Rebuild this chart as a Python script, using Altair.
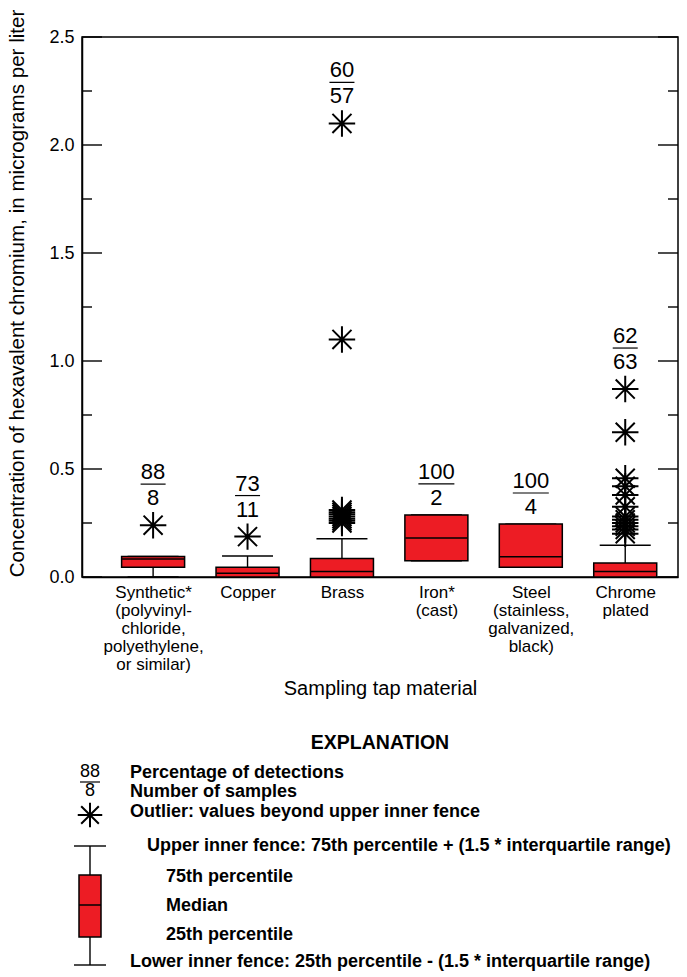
import altair as alt
import pandas as pd

# ---------------- data ----------------
categories = [
    "Synthetic*\n(polyvinyl-\nchloride,\npolyethylene,\nor similar)",
    "Copper",
    "Brass",
    "Iron*\n(cast)",
    "Steel\n(stainless,\ngalvanized,\nblack)",
    "Chrome\nplated",
]
q1 = [0.045, 0.0, 0.0, 0.075, 0.045, 0.0]
median = [0.083, 0.017, 0.025, 0.18, 0.094, 0.025]
q3 = [0.095, 0.045, 0.086, 0.287, 0.245, 0.065]
whisker_low = [0.0, 0.0, 0.0, 0.075, 0.045, 0.0]
whisker_high = [0.095, 0.097, 0.177, 0.287, 0.245, 0.147]
outliers = [
    [0.24],
    [0.187],
    [0.25, 0.26, 0.27, 0.28, 0.29, 0.30, 0.31, 1.10, 2.10],
    [],
    [],
    [0.87, 0.67, 0.457, 0.42, 0.38, 0.325, 0.28, 0.265, 0.25, 0.235, 0.22, 0.20],
]
pct_detections = [88, 73, 60, 100, 100, 62]
n_samples = [8, 11, 57, 2, 4, 63]
y_major = [0.0, 0.5, 1.0, 1.5, 2.0, 2.5]
y_minor = [0.25, 0.75, 1.25, 1.75, 2.25]

# ---------------- styling ----------------
W, H = 596, 540
FONT = "Liberation Sans"
RED = "#ED1C24"
STAR = "M-1,0L1,0M0,-1L0,1M-0.72,-0.72L0.72,0.72M-0.72,0.72L0.72,-0.72"

stats = pd.DataFrame({
    "cat": categories, "q1": q1, "med": median, "q3": q3,
    "lo": whisker_low, "hi": whisker_high,
    "pct": pct_detections, "n": n_samples,
})
stats["top"] = [max([b] + o) for b, o in zip(q3, outliers)]
stats["has_out"] = [len(o) > 0 for o in outliers]

out_df = pd.DataFrame(
    [(c, v) for c, vals in zip(categories, outliers) for v in vals],
    columns=["cat", "value"],
)
major_df = pd.DataFrame({"v": y_major})
minor_df = pd.DataFrame({"v": y_minor})

xscale = alt.Scale(type="point", padding=0.656, align=0.574, domain=categories)
yscale = alt.Scale(domain=[0, 2.5], nice=False, zero=True)

xaxis = alt.Axis(
    title="Sampling tap material",
    labelExpr="split(datum.label, '\\n')",
    labelAngle=0, ticks=False, domainColor="black", domainWidth=1.5,
    labelFont=FONT, labelFontSize=17, labelColor="black", labelLineHeight=18,
    labelPadding=7, labelBaseline="top",
    titleFont=FONT, titleFontSize=20, titleFontWeight="normal", titleColor="black",
    titlePadding=6,
)
yaxis = alt.Axis(
    title="Concentration of hexavalent chromium, in micrograms per liter",
    values=y_major, format=".1f", ticks=False, grid=False,
    domainColor="black", domainWidth=1.5,
    labelFont=FONT, labelFontSize=18, labelColor="black", labelPadding=8,
    titleFont=FONT, titleFontSize=20.6, titleFontWeight="normal", titleColor="black",
    titleX=-55, titleY=256,
)


def X():
    return alt.X("cat:N", scale=xscale, sort=categories, axis=xaxis)


def Y(field):
    return alt.Y(field, scale=yscale, axis=yaxis)


base = alt.Chart(stats)

whisk_up = base.mark_rule(color="black", strokeWidth=1.4).encode(x=X(), y=Y("q3:Q"), y2="hi:Q")
whisk_lo = base.mark_rule(color="black", strokeWidth=1.4).encode(x=X(), y=Y("lo:Q"), y2="q1:Q")
cap_up = base.mark_tick(color="black", size=51, thickness=1.4, opacity=1).encode(x=X(), y=Y("hi:Q"))
cap_lo = base.mark_tick(color="black", size=51, thickness=1.4, opacity=1).encode(x=X(), y=Y("lo:Q"))
box = base.mark_bar(size=63, fill=RED, stroke="black", strokeWidth=1.5).encode(x=X(), y=Y("q1:Q"), y2="q3:Q")
med = base.mark_tick(color="black", size=62, thickness=1.5, opacity=1).encode(x=X(), y=Y("med:Q"))

stars = alt.Chart(out_df).mark_point(
    shape=STAR, size=700, filled=False, stroke="black", strokeWidth=2, opacity=1
).encode(x=X(), y=Y("value:Q"))

lab = base.transform_calculate(
    line_y="datum.top + (datum.has_out ? 0.19 : 0.144)",
    tw="length(toString(datum.pct)) * 11 + 3",
)
num = lab.mark_text(font=FONT, fontSize=22, dy=-12, baseline="middle", color="black").encode(
    x=X(), y=Y("line_y:Q"), text="pct:N")
den = lab.mark_text(font=FONT, fontSize=22, dy=14, baseline="middle", color="black").encode(
    x=X(), y=Y("line_y:Q"), text="n:N")
bar = lab.mark_tick(color="black", thickness=1.2, opacity=1).encode(
    x=X(), y=Y("line_y:Q"), size=alt.Size("tw:Q", scale=None))

ticks_major_l = alt.Chart(major_df).mark_rule(color="black", strokeWidth=1.4).encode(
    y=Y("v:Q"), x=alt.value(0), x2=alt.value(20))
ticks_major_r = alt.Chart(major_df).mark_rule(color="black", strokeWidth=1.4).encode(
    y=Y("v:Q"), x=alt.value(W - 20), x2=alt.value(W))
ticks_minor_l = alt.Chart(minor_df).mark_rule(color="black", strokeWidth=1.4).encode(
    y=Y("v:Q"), x=alt.value(0), x2=alt.value(10))
ticks_minor_r = alt.Chart(minor_df).mark_rule(color="black", strokeWidth=1.4).encode(
    y=Y("v:Q"), x=alt.value(W - 10), x2=alt.value(W))

# ---------------- explanation (legend) ----------------
one = alt.Chart(pd.DataFrame({"k": [0]}))


def ltext(txt, x, y, size=18, bold=True, align="left"):
    return one.mark_text(
        text=txt, font=FONT, fontSize=size, fontWeight="bold" if bold else "normal",
        align=align, baseline="middle", color="black",
    ).encode(x=alt.value(x), y=alt.value(y))


def lrule(x, x2, y, y2=None, w=1.4):
    enc = dict(x=alt.value(x), y=alt.value(y))
    if x2 is not None:
        enc["x2"] = alt.value(x2)
    if y2 is not None:
        enc["y2"] = alt.value(y2)
    return one.mark_rule(color="black", strokeWidth=w).encode(**enc)


LX = 8  # legend symbol centre
legend = [
    ltext("EXPLANATION", W / 2, 706, size=19.5, align="center"),
    one.mark_text(text="88", font=FONT, fontSize=18, align="center", baseline="middle", color="black").encode(
        x=alt.value(LX), y=alt.value(735)),
    lrule(LX - 10, LX + 10, 745, w=1.2),
    one.mark_text(text="8", font=FONT, fontSize=18, align="center", baseline="middle", color="black").encode(
        x=alt.value(LX), y=alt.value(754)),
    ltext("Percentage of detections", 48, 736),
    ltext("Number of samples", 48, 755),
    one.mark_point(shape=STAR, size=600, filled=False, stroke="black", strokeWidth=2, opacity=1).encode(
        x=alt.value(LX), y=alt.value(778)),
    ltext("Outlier: values beyond upper inner fence", 48, 775),
    lrule(LX - 16, LX + 16, 809),
    lrule(LX, None, 809, 838),
    one.mark_rect(fill=RED, stroke="black", strokeWidth=1.5).encode(
        x=alt.value(LX - 11), x2=alt.value(LX + 11), y=alt.value(838), y2=alt.value(900)),
    lrule(LX - 11, LX + 11, 868, w=1.5),
    lrule(LX, None, 900, 928),
    lrule(LX - 16, LX + 16, 928),
    ltext("Upper inner fence: 75th percentile + (1.5 * interquartile range)", 65, 809),
    ltext("75th percentile", 84, 840),
    ltext("Median", 84, 869),
    ltext("25th percentile", 84, 898),
    ltext("Lower inner fence: 25th percentile - (1.5 * interquartile range)", 48, 925),
]

chart = alt.layer(
    ticks_major_l, ticks_major_r, ticks_minor_l, ticks_minor_r,
    whisk_up, whisk_lo, cap_up, cap_lo, box, med, stars, num, bar, den,
    *legend,
).properties(
    width=W, height=H,
    autosize=alt.AutoSizeParams(type="none"),
    padding={"left": 82, "top": 37, "right": 687 - 82 - W, "bottom": 977 - 37 - H},
    background="white",
).configure_view(stroke="black", strokeWidth=1.5)

chart.save("out.html", embed_options={"renderer": "svg", "actions": False})
